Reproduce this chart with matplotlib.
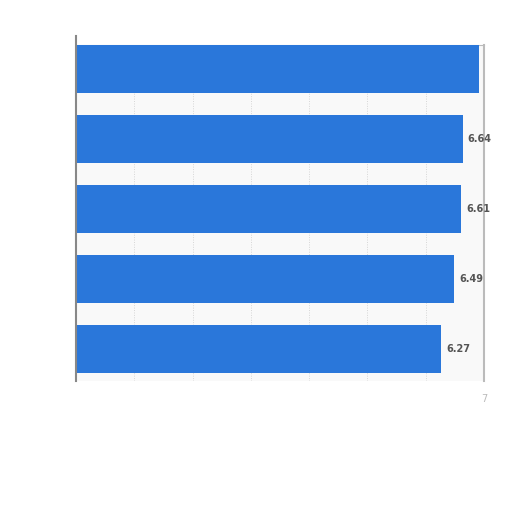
import matplotlib.pyplot as plt

values = [6.91, 6.64, 6.61, 6.49, 6.27]
labels = ["", "6.64", "6.61", "6.49", "6.27"]
positions = [0, 1, 2, 3, 4]

fig = plt.figure(figsize=(5.12, 5.12), dpi=100)
ax = fig.add_axes([76/512, 1 - 381/512, (484 - 76)/512, (381 - 45)/512])
ax.set_facecolor("#f9f9f9")

ax.barh(positions, values, height=0.68, color="#2a77da", zorder=3)

for p, v, lab in zip(positions, values, labels):
    if lab:
        ax.text(v + 0.08, p, lab, va="center", ha="left", fontsize=7,
                fontweight="bold", color="#555555", zorder=4, clip_on=False)

ax.set_xlim(0, 7)
ax.set_ylim(4.46, -0.34)
ax.set_xticks([1, 2, 3, 4, 5, 6, 7])
ax.set_xticklabels(["", "", "", "", "", "", "7"], color="#bbbbbb", fontsize=7)
ax.tick_params(axis="x", length=0, pad=9)
ax.set_yticks([])
ax.grid(axis="x", color="#d6d6d6", linestyle=(0, (1, 1.5)), linewidth=0.7, zorder=1)

# left axis line runs a little past the plot area
ax.plot([0, 0], [-0.47, 4.46], color="#888888", linewidth=1.5, clip_on=False, zorder=5)

ax.spines["bottom"].set_visible(False)
ax.spines["left"].set_visible(False)
ax.spines["top"].set_color("#bbbbbb")
ax.spines["right"].set_color("#bbbbbb")
ax.spines["right"].set_linewidth(1.5)

fig.savefig("out.png", dpi=100, facecolor="white")
